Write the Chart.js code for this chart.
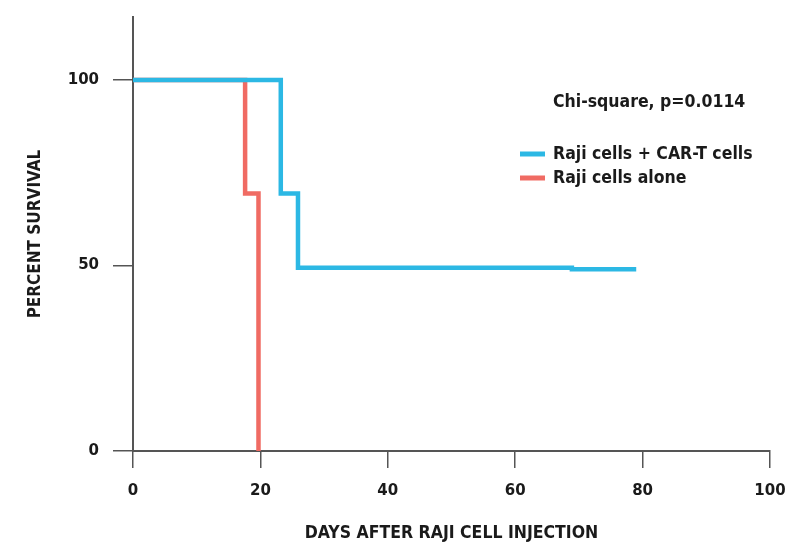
<!DOCTYPE html>
<html><head><meta charset="utf-8">
<script src="https://cdn.jsdelivr.net/npm/chart.js@4.4.1/dist/chart.umd.min.js"></script>
<style>html,body{margin:0;padding:0;background:#fff}#wrap{width:805px;height:548px}</style>
</head><body><div id="wrap"><canvas id="c" width="805" height="548"></canvas></div>
<script>
// ---- data ----
const carT_days = [0, 23.2, 25.9, 68.9, 79.0];
const carT_survival = [100, 69.4, 49.4, 49.0, 49.0];
const rajiAlone_days = [0, 17.6, 19.7];
const rajiAlone_survival = [100, 69.4, 0];
const seriesLabels = ['Raji cells + CAR-T cells', 'Raji cells alone'];
const seriesColors = ['#2cb8e4', '#f06b63'];
const xTicks = [0, 20, 40, 60, 80, 100];
const yTicks = [0, 50, 100];
const statText = 'Chi-square, p=0.0114';
const xTitle = 'DAYS AFTER RAJI CELL INJECTION';
const yTitle = 'PERCENT SURVIVAL';

const condFont = "'DejaVu Sans Condensed', 'Liberation Sans Narrow', 'DejaVu Sans', sans-serif";
const tickFont = "'DejaVu Sans', sans-serif";
const axisColor = '#555555';
const textColor = '#1a1a1a';

const toPts = (xs, ys) => xs.map((x, i) => ({x: x, y: ys[i]}));

const legendPlugin = {
  id: 'kmLegend',
  afterDraw(chart) {
    const ctx = chart.ctx;
    ctx.save();
    ctx.font = "bold 17.5px " + condFont;
    ctx.fillStyle = textColor;
    ctx.textAlign = 'left';
    ctx.textBaseline = 'middle';
    ctx.fillText(statText, 553, 102);
    chart.data.datasets.forEach((ds, i) => {
      const y = 154 + i * 24;
      ctx.strokeStyle = ds.borderColor;
      ctx.lineWidth = 5;
      ctx.beginPath();
      ctx.moveTo(520, y);
      ctx.lineTo(545, y);
      ctx.stroke();
      ctx.fillStyle = textColor;
      ctx.fillText(ds.label, 553, y);
    });
    ctx.restore();
  }
};

new Chart(document.getElementById('c'), {
  type: 'line',
  data: {
    datasets: [
      {label: seriesLabels[0], data: toPts(carT_days, carT_survival), borderColor: seriesColors[0],
       borderWidth: 4.5, stepped: true, pointRadius: 0, fill: false, borderCapStyle: 'butt', borderJoinStyle: 'miter'},
      {label: seriesLabels[1], data: toPts(rajiAlone_days, rajiAlone_survival), borderColor: seriesColors[1],
       borderWidth: 4.5, stepped: true, pointRadius: 0, fill: false, borderCapStyle: 'butt', borderJoinStyle: 'miter'}
    ]
  },
  options: {
    responsive: false,
    devicePixelRatio: 1,
    animation: false,
    layout: {padding: {top: 17, right: 35, left: 0, bottom: 0}},
    plugins: {legend: {display: false}, tooltip: {enabled: false}},
    scales: {
      x: {
        type: 'linear', min: 0, max: 100,
        afterBuildTicks: s => { s.ticks = xTicks.map(v => ({value: v})); },
        afterFit: s => { s.height = 97; },
        grid: {display: true, drawOnChartArea: false, drawTicks: true, tickLength: 17, color: axisColor, lineWidth: 1.5},
        border: {display: true, color: axisColor, width: 2},
        ticks: {padding: 14, color: textColor, font: {family: tickFont, size: 15, weight: 'bold'}, maxRotation: 0},
        title: {display: true, text: xTitle, color: textColor, padding: {top: 0, bottom: 4},
                font: {family: condFont, size: 17.5, weight: 'bold'}}
      },
      y: {
        type: 'linear', min: 0, max: 117,
        afterBuildTicks: s => { s.ticks = yTicks.map(v => ({value: v})); },
        afterFit: s => { s.width = 133; s.paddingTop = 0; s.paddingBottom = 0; },
        grid: {display: true, drawOnChartArea: false, drawTicks: true, tickLength: 20, color: axisColor, lineWidth: 1.5},
        border: {display: true, color: axisColor, width: 2},
        ticks: {padding: 14, color: textColor, font: {family: tickFont, size: 15, weight: 'bold'}},
        title: {display: true, text: yTitle, color: textColor, padding: {top: 25, bottom: 0},
                font: {family: condFont, size: 17, weight: 'bold'}}
      }
    }
  },
  plugins: [legendPlugin]
});
</script>
</body></html>
